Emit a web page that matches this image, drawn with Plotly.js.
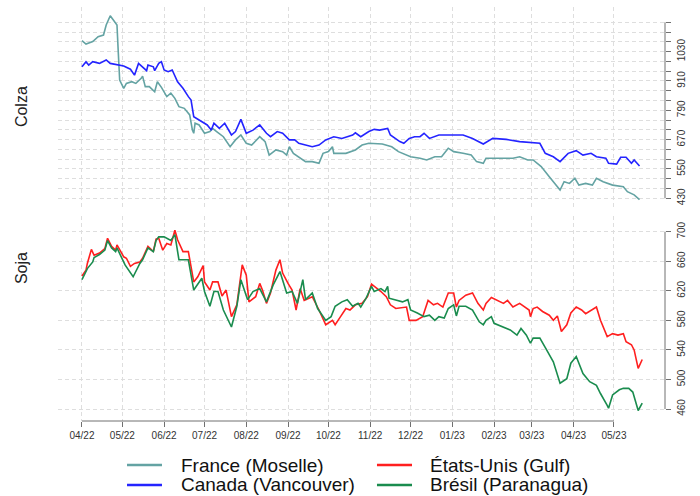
<!DOCTYPE html>
<html><head><meta charset="utf-8">
<script src="https://cdn.plot.ly/plotly-3.0.1.min.js"></script>
<style>html,body{margin:0;padding:0;background:#fff}#chart{width:700px;height:496px}</style>
</head><body><div id="chart"></div>
<script>
const franceDates = ["2022-04-01","2022-04-04","2022-04-09","2022-04-13","2022-04-17","2022-04-19","2022-04-22","2022-04-25","2022-04-27","2022-04-28","2022-04-29","2022-05-02","2022-05-04","2022-05-08","2022-05-11","2022-05-15","2022-05-16","2022-05-18","2022-05-21","2022-05-25","2022-05-27","2022-05-30","2022-06-03","2022-06-06","2022-06-09","2022-06-12","2022-06-16","2022-06-20","2022-06-22","2022-06-23","2022-06-24","2022-06-27","2022-07-01","2022-07-05","2022-07-07","2022-07-10","2022-07-15","2022-07-20","2022-07-24","2022-07-28","2022-08-01","2022-08-05","2022-08-11","2022-08-15","2022-08-18","2022-08-23","2022-08-28","2022-08-31","2022-09-02","2022-09-05","2022-09-09","2022-09-14","2022-09-19","2022-09-24","2022-09-27","2022-10-01","2022-10-04","2022-10-05","2022-10-14","2022-10-21","2022-10-26","2022-10-31","2022-11-10","2022-11-17","2022-11-22","2022-11-28","2022-12-01","2022-12-08","2022-12-13","2022-12-19","2022-12-24","2022-12-29","2023-01-02","2023-01-09","2023-01-15","2023-01-19","2023-01-24","2023-01-26","2023-02-05","2023-02-15","2023-02-20","2023-02-26","2023-03-02","2023-03-08","2023-03-14","2023-03-22","2023-03-25","2023-03-29","2023-04-02","2023-04-05","2023-04-10","2023-04-15","2023-04-18","2023-04-23","2023-04-30","2023-05-08","2023-05-11","2023-05-16","2023-05-20"];
const franceValues = [1075,1061,1071,1091,1098,1139,1177,1152,1139,1024,914,880,900,907,900,921,930,887,887,866,907,884,846,860,839,805,798,771,709,696,737,730,696,703,716,703,682,641,669,689,655,648,682,662,607,628,621,607,641,614,600,580,580,573,614,621,641,614,614,628,648,655,652,641,621,607,600,594,587,600,600,635,621,614,607,580,573,594,594,594,600,587,587,560,518,464,498,491,512,484,491,484,512,498,484,477,457,444,425];

const canadaDates = ["2022-04-01","2022-04-04","2022-04-06","2022-04-09","2022-04-14","2022-04-19","2022-04-22","2022-04-27","2022-05-02","2022-05-07","2022-05-10","2022-05-13","2022-05-17","2022-05-19","2022-05-20","2022-05-24","2022-05-25","2022-05-28","2022-05-30","2022-06-01","2022-06-04","2022-06-07","2022-06-11","2022-06-15","2022-06-19","2022-06-21","2022-06-23","2022-06-25","2022-06-30","2022-07-03","2022-07-06","2022-07-08","2022-07-12","2022-07-16","2022-07-21","2022-07-24","2022-07-28","2022-08-01","2022-08-06","2022-08-11","2022-08-16","2022-08-19","2022-08-24","2022-08-28","2022-09-02","2022-09-06","2022-09-09","2022-09-14","2022-09-19","2022-09-24","2022-09-29","2022-10-05","2022-10-11","2022-10-15","2022-10-19","2022-10-21","2022-10-25","2022-10-31","2022-11-04","2022-11-08","2022-11-14","2022-11-16","2022-11-23","2022-11-26","2022-11-30","2022-12-04","2022-12-08","2022-12-11","2022-12-15","2022-12-22","2022-12-30","2023-01-05","2023-01-09","2023-01-16","2023-01-24","2023-01-31","2023-02-10","2023-02-20","2023-03-02","2023-03-07","2023-03-11","2023-03-17","2023-03-22","2023-03-28","2023-04-03","2023-04-08","2023-04-14","2023-04-18","2023-04-25","2023-04-27","2023-05-03","2023-05-06","2023-05-10","2023-05-14","2023-05-16","2023-05-20"];
const canadaValues = [968,989,975,989,982,996,982,975,971,958,934,982,962,952,975,968,952,982,989,955,948,955,907,880,846,832,764,757,737,730,709,737,716,737,689,703,753,696,709,730,696,682,703,696,669,669,655,648,641,648,669,682,675,682,689,698,682,703,712,709,716,689,662,655,675,682,682,696,675,689,689,689,689,675,652,675,671,662,657,655,614,600,580,614,625,607,614,600,594,573,570,598,598,573,587,562];

const usDates = ["2022-04-01","2022-04-04","2022-04-05","2022-04-08","2022-04-10","2022-04-14","2022-04-18","2022-04-20","2022-04-23","2022-04-26","2022-04-27","2022-05-02","2022-05-04","2022-05-07","2022-05-10","2022-05-14","2022-05-16","2022-05-20","2022-05-24","2022-05-26","2022-05-28","2022-05-31","2022-06-03","2022-06-06","2022-06-09","2022-06-11","2022-06-15","2022-06-19","2022-06-23","2022-06-26","2022-06-30","2022-07-01","2022-07-05","2022-07-07","2022-07-11","2022-07-14","2022-07-17","2022-07-21","2022-07-25","2022-07-29","2022-08-01","2022-08-03","2022-08-08","2022-08-11","2022-08-13","2022-08-16","2022-08-19","2022-08-23","2022-08-26","2022-08-28","2022-09-01","2022-09-04","2022-09-07","2022-09-10","2022-09-13","2022-09-19","2022-09-24","2022-09-29","2022-10-04","2022-10-06","2022-10-10","2022-10-14","2022-10-17","2022-10-21","2022-10-26","2022-10-30","2022-11-02","2022-11-05","2022-11-09","2022-11-13","2022-11-16","2022-11-20","2022-11-28","2022-11-30","2022-12-05","2022-12-10","2022-12-14","2022-12-18","2022-12-21","2022-12-25","2022-12-29","2023-01-02","2023-01-04","2023-01-06","2023-01-11","2023-01-16","2023-01-20","2023-01-24","2023-01-26","2023-01-30","2023-02-03","2023-02-08","2023-02-11","2023-02-15","2023-02-20","2023-02-24","2023-02-27","2023-02-28","2023-03-02","2023-03-05","2023-03-09","2023-03-14","2023-03-17","2023-03-20","2023-03-23","2023-03-27","2023-03-30","2023-04-03","2023-04-07","2023-04-10","2023-04-14","2023-04-18","2023-04-21","2023-04-26","2023-04-30","2023-05-04","2023-05-08","2023-05-10","2023-05-14","2023-05-16","2023-05-19","2023-05-22"];
const usValues = [640,648,657,676,668,671,677,691,680,675,682,666,664,653,657,659,664,680,673,690,691,675,684,682,702,689,673,673,632,639,654,632,621,632,632,613,621,585,601,655,641,605,612,630,621,603,617,648,662,644,630,621,594,623,607,612,594,574,580,574,585,596,594,601,603,612,629,625,619,612,601,596,598,580,580,585,607,601,603,598,617,617,598,607,614,617,603,594,603,611,607,603,607,598,603,598,594,585,596,598,592,587,580,586,565,574,590,598,594,589,594,598,580,558,562,560,562,551,547,540,515,527];

const bresilDates = ["2022-04-01","2022-04-05","2022-04-09","2022-04-10","2022-04-14","2022-04-18","2022-04-20","2022-04-23","2022-04-26","2022-04-27","2022-05-03","2022-05-09","2022-05-14","2022-05-16","2022-05-20","2022-05-24","2022-05-26","2022-05-28","2022-06-01","2022-06-06","2022-06-09","2022-06-12","2022-06-19","2022-06-23","2022-06-29","2022-07-01","2022-07-05","2022-07-08","2022-07-11","2022-07-15","2022-07-21","2022-07-25","2022-07-28","2022-08-02","2022-08-06","2022-08-11","2022-08-16","2022-08-21","2022-08-26","2022-08-31","2022-09-04","2022-09-08","2022-09-12","2022-09-14","2022-09-19","2022-09-23","2022-09-29","2022-10-03","2022-10-06","2022-10-11","2022-10-15","2022-10-19","2022-10-23","2022-10-25","2022-10-29","2022-11-02","2022-11-04","2022-11-09","2022-11-12","2022-11-14","2022-11-15","2022-11-20","2022-11-25","2022-11-29","2022-12-01","2022-12-06","2022-12-11","2022-12-15","2022-12-19","2022-12-22","2022-12-26","2022-12-29","2023-01-02","2023-01-04","2023-01-06","2023-01-11","2023-01-16","2023-01-21","2023-01-24","2023-01-26","2023-01-30","2023-02-01","2023-02-08","2023-02-13","2023-02-18","2023-02-21","2023-02-25","2023-02-28","2023-03-02","2023-03-07","2023-03-12","2023-03-17","2023-03-22","2023-03-27","2023-03-30","2023-04-03","2023-04-08","2023-04-13","2023-04-18","2023-04-21","2023-04-26","2023-04-27","2023-04-30","2023-05-05","2023-05-08","2023-05-12","2023-05-15","2023-05-17","2023-05-19","2023-05-22"];
const bresilValues = [635,650,659,665,669,675,688,678,673,678,655,639,657,662,678,673,688,693,693,688,696,662,662,621,637,619,599,619,619,594,571,599,635,608,619,623,605,628,646,617,619,603,635,608,617,596,580,585,599,605,608,599,603,598,610,626,619,623,619,626,610,608,605,608,594,590,585,587,580,585,583,596,601,586,599,599,594,578,574,580,585,576,571,567,560,569,560,549,556,556,540,524,495,501,522,531,508,497,492,481,465,461,479,486,488,488,483,470,458,468];

const monthTicks = ["2022-04-01","2022-05-01","2022-06-01","2022-07-01","2022-08-01","2022-09-01","2022-10-01","2022-11-01","2022-12-01","2023-01-01","2023-02-01","2023-03-01","2023-04-01","2023-05-01"];
const monthLabels = ["04/22","05/22","06/22","07/22","08/22","09/22","10/22","11/22","12/22","01/23","02/23","03/23","04/23","05/23"];
const colzaLabelTicks = [430,550,670,790,910,1030];
const colzaMinorTicks = [470,510,590,630,710,750,830,870,950,990,1070,1110,1150];
const sojaTicks = [460,500,540,580,620,660,700];
const seriesNames = ["France (Moselle)","États-Unis (Gulf)","Canada (Vancouver)","Brésil (Paranagua)"];
const seriesColors = ["#64a3a3","#ff1f1f","#2424ff","#1a8c4e"];
const panelTitles = ["Colza","Soja"];

const FONT = "Liberation Sans, Arial, sans-serif";
const GRID = "#dedede";
const DASH = "4px,3px";
const AXC = "#707070";

const traces = [
  {x: franceDates, y: franceValues, name: seriesNames[0], xaxis:"x", yaxis:"y", mode:"lines", line:{color:seriesColors[0], width:1.6}},
  {x: usDates, y: usValues, name: seriesNames[1], xaxis:"x", yaxis:"y2", mode:"lines", line:{color:seriesColors[1], width:1.6}},
  {x: canadaDates, y: canadaValues, name: seriesNames[2], xaxis:"x", yaxis:"y", mode:"lines", line:{color:seriesColors[2], width:1.6}},
  {x: bresilDates, y: bresilValues, name: seriesNames[3], xaxis:"x", yaxis:"y2", mode:"lines", line:{color:seriesColors[3], width:1.6}}
];

const tickFont = {family: FONT, size: 10, color: "#333"};
const yCommon = {
  side:"right", anchor:"x", tickangle:-90, ticks:"outside", ticklen:5, tickcolor:AXC,
  showgrid:true, gridcolor:GRID, griddash:DASH, gridwidth:1, zeroline:false, showline:false,
  tickfont: tickFont, tickmode:"array", fixedrange:true, ticklabelstandoff:2
};

// legend built in paper coordinates: two columns, two rows
const legendCols = [[0.1137, 0.1713, 0.1993], [0.5255, 0.5832, 0.6096]]; // line start, line end, text start
const legendRows = [-0.1058, -0.1538];
const legendShapes = [];
const legendAnnots = [];
seriesNames.forEach((name, i) => {
  const c = legendCols[i % 2], r = legendRows[Math.floor(i / 2)];
  legendShapes.push({type:"line", xref:"paper", yref:"paper", x0:c[0], x1:c[1], y0:r, y1:r, line:{color:seriesColors[i], width:2.5}});
  legendAnnots.push({text:name, xref:"paper", yref:"paper", x:c[2], y:r, xanchor:"left", yanchor:"middle", showarrow:false, font:{family:FONT, size:19, color:"#111"}});
});

const layout = {
  width:700, height:496,
  margin:{l:58, r:35, t:5, b:75, autoexpand:false},
  paper_bgcolor:"#fff", plot_bgcolor:"#fff",
  font:{family: FONT, color:"#222"},
  showlegend:false,
  xaxis:{type:"date", anchor:"y2", range:["2022-03-14 05:00","2023-06-07 22:00"],
         tickmode:"array", tickvals: monthTicks, ticktext: monthLabels,
         ticks:"outside", ticklen:5, tickcolor:AXC, showline:false,
         showgrid:true, gridcolor:GRID, griddash:DASH, zeroline:false,
         tickfont: tickFont, fixedrange:true},
  yaxis: Object.assign({}, yCommon, {domain:[0.5144,0.9952], range:[394.4,1212.7],
         tickvals: colzaLabelTicks,
         minor:{tickmode:"array", tickvals: colzaMinorTicks, ticks:"outside", ticklen:5, tickcolor:AXC,
                showgrid:true, gridcolor:GRID, griddash:DASH, gridwidth:1}}),
  yaxis2: Object.assign({}, yCommon, {domain:[0,0.4928], range:[443.8,721.2], tickvals: sojaTicks}),
  shapes:[
    {type:"line", xref:"paper", yref:"y", x0:1, x1:1, y0:colzaLabelTicks[0], y1:colzaMinorTicks[colzaMinorTicks.length-1], line:{color:AXC, width:1}},
    {type:"line", xref:"paper", yref:"y2", x0:1, x1:1, y0:sojaTicks[0], y1:sojaTicks[sojaTicks.length-1], line:{color:AXC, width:1}},
    {type:"line", xref:"x", yref:"paper", x0:monthTicks[0], x1:monthTicks[monthTicks.length-1], y0:0, y1:0, line:{color:AXC, width:1}}
  ].concat(legendShapes),
  annotations:[
    {text: panelTitles[0], xref:"paper", yref:"paper", x:-0.059, y:0.755, xanchor:"center", yanchor:"middle", textangle:-90, showarrow:false, font:{family:FONT, size:16, color:"#222"}},
    {text: panelTitles[1], xref:"paper", yref:"paper", x:-0.059, y:0.368, xanchor:"center", yanchor:"middle", textangle:-90, showarrow:false, font:{family:FONT, size:16, color:"#222"}}
  ].concat(legendAnnots)
};

Plotly.newPlot("chart", traces, layout, {displayModeBar:false, staticPlot:true});
</script></body></html>
